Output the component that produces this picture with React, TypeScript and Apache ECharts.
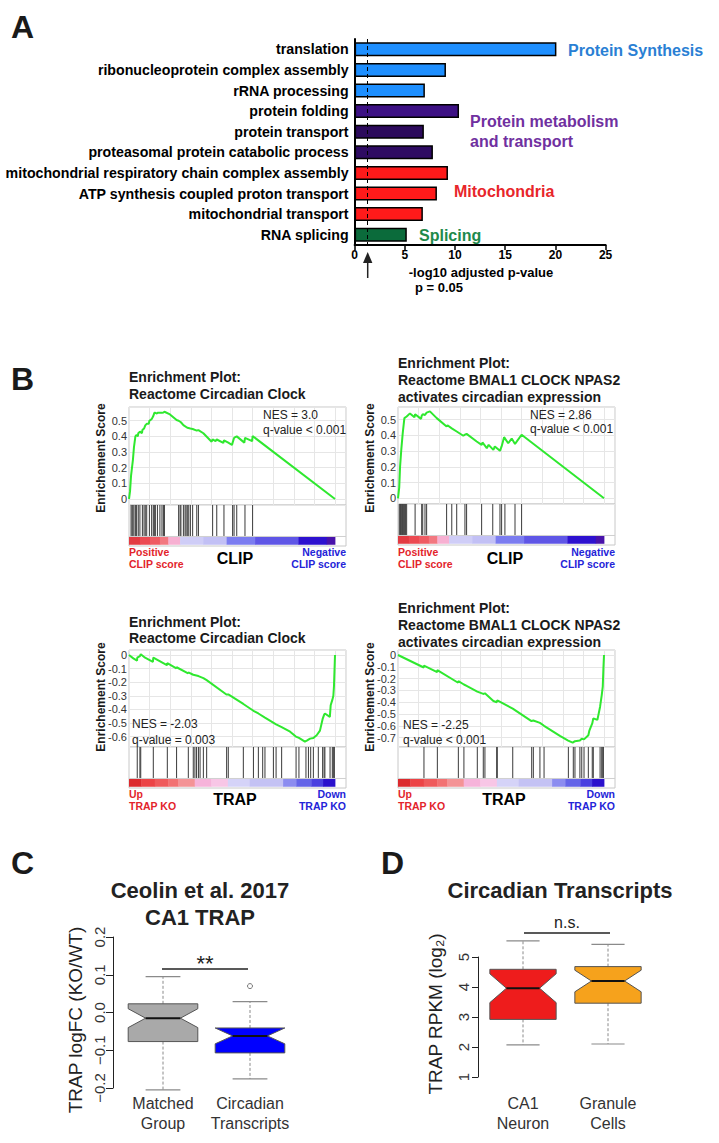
import React, { useEffect, useRef } from "react";
import * as echarts from "echarts";

const FONT = "'Liberation Sans', Arial, Helvetica, sans-serif";

// ---------- Panel A ----------
const goTerms = [
  "translation",
  "ribonucleoprotein complex assembly",
  "rRNA processing",
  "protein folding",
  "protein transport",
  "proteasomal protein catabolic process",
  "mitochondrial respiratory chain complex assembly",
  "ATP synthesis coupled proton transport",
  "mitochondrial transport",
  "RNA splicing",
];
const goValues = [20.1, 9.1, 7.0, 10.4, 6.9, 7.8, 9.3, 8.2, 6.8, 5.2];
const goBarColors = ["#1e8fff", "#1e8fff", "#1e8fff", "#3d1184", "#2c0a5c", "#2e0b62", "#ff1a1a", "#ff1a1a", "#ff1a1a", "#0b6b3b"];
const pCutoff = 1.301; // -log10(0.05)
const goTicks = [0, 25, 5];

// ---------- Panel B (GSEA) ----------
const tlCurve = [[0,0],[0.5,0.05],[1.0,0.15],[1.9,0.25],[2.4,0.33],[3.1,0.40],[3.7,0.41],[4.3,0.40],[4.5,0.42],[5.3,0.43],[6.3,0.42],[6.5,0.44],[7.3,0.45],[7.9,0.47],[8.6,0.48],[9.6,0.48],[9.9,0.50],[11,0.51],[11.8,0.53],[12.3,0.55],[12.8,0.55],[13.6,0.545],[13.8,0.55],[15,0.55],[16,0.55],[16.7,0.552],[17.2,0.557],[19.9,0.54],[23.1,0.504],[24.1,0.50],[25.2,0.49],[26.4,0.472],[28.3,0.455],[29.8,0.45],[30.9,0.447],[32.9,0.437],[33.7,0.44],[36.1,0.42],[40.1,0.366],[40.6,0.38],[42,0.37],[42.6,0.38],[45.8,0.358],[46.1,0.375],[48.2,0.36],[50,0.345],[50.3,0.36],[51,0.39],[51.4,0.394],[52.3,0.40],[56,0.36],[56.3,0.39],[59.8,0.37],[60,0.402],[100,0]];
const tlHits = [1.0,1.5,1.9,2.4,3.1,3.7,4.5,5.3,6.5,7.3,7.9,8.6,9.9,11,11.8,12.3,12.8,13.8,15,16,16.7,17.2,24.1,24.8,25.2,26.4,27.2,27.7,28.3,29,29.8,30.9,32.9,33.7,40.6,42.6,46.1,50.3,51,52.3,56.3,60];

const trCurve = [[0,0],[0.6,0.07],[1.0,0.2],[1.6,0.31],[2.3,0.415],[3.1,0.51],[4.2,0.52],[5.8,0.54],[8.0,0.515],[8.3,0.535],[11.2,0.505],[11.5,0.525],[12,0.535],[13.1,0.53],[13.9,0.545],[15.5,0.553],[18.8,0.51],[23.6,0.457],[24,0.465],[26.1,0.445],[28.5,0.425],[31.7,0.398],[32.5,0.405],[33.3,0.41],[38.2,0.361],[40.6,0.34],[41,0.355],[43.1,0.319],[44,0.34],[46.3,0.308],[47,0.33],[49.5,0.302],[50.3,0.33],[51.5,0.389],[53.5,0.35],[55.2,0.38],[56.8,0.345],[57.6,0.36],[60,0.404],[100,0]];
const trHits = [0.6,1.0,1.3,1.6,2.0,2.3,2.6,3.1,3.6,4.2,8.3,11.5,12,13.1,13.9,23.6,26.1,28.5,32.5,33.3,40.6,46,49.5,50.3,51.9,56.8,60];

const blCurve = [[0,0],[2.1,-0.025],[3.9,-0.042],[4.0,-0.02],[5.3,-0.008],[5.7,0.006],[7.8,-0.02],[11.6,-0.05],[11.8,-0.02],[18.4,-0.075],[18.6,-0.06],[23,-0.098],[23.1,-0.09],[28.7,-0.135],[28.8,-0.128],[31.2,-0.145],[33.7,-0.155],[36.1,-0.17],[37.7,-0.185],[47.3,-0.29],[48.2,-0.29],[55.5,-0.36],[60.4,-0.41],[62.8,-0.43],[66,-0.46],[71.4,-0.51],[74.1,-0.53],[78.2,-0.564],[81,-0.6],[82.5,-0.61],[85.4,-0.637],[86.3,-0.63],[87.9,-0.615],[89.5,-0.61],[91.1,-0.59],[92.7,-0.556],[94,-0.47],[94.7,-0.44],[95.1,-0.43],[97.5,-0.455],[97.9,-0.37],[98.7,-0.33],[99.2,-0.30],[99.5,-0.23],[100,0]];
const blHits = [4.0,5.3,5.7,11.8,18.6,23.1,28.8,31.2,32,32.8,33.7,34.5,36.1,37.7,47.4,48.2,55.5,60.4,62.8,64.9,66,70.1,71.4,74.1,81.1,82.5,85.9,87.1,88.2,89.5,91.9,94,94.7,95.1,97.6,98.7,99.2,99.7];

const brCurve = [[0,0],[12.5,-0.106],[12.6,-0.09],[19,-0.145],[19.1,-0.128],[29.2,-0.235],[29.3,-0.222],[32,-0.25],[33.3,-0.262],[38.5,-0.31],[41.4,-0.33],[42.2,-0.325],[46.3,-0.39],[47.9,-0.40],[48.2,-0.385],[55.7,-0.455],[64.8,-0.56],[65.7,-0.555],[68.9,-0.575],[70.9,-0.6],[78.6,-0.686],[82.6,-0.725],[84.8,-0.743],[85.9,-0.73],[88.3,-0.725],[89.2,-0.71],[90.3,-0.715],[92.4,-0.68],[92.9,-0.64],[94.3,-0.58],[94.8,-0.537],[96.8,-0.55],[98.1,-0.438],[98.9,-0.34],[99.4,-0.268],[99.7,-0.12],[100,0]];
const brHits = [12.6,19.1,29.3,32,38.5,41.4,42.2,47.9,48.2,55.7,64.9,65.7,68.9,70.9,82.7,85.1,85.9,88.3,89.2,90.3,92.4,94.3,94.8,98.1,98.9,99.4,99.7];

const clipBounds = [0, 5.3, 10.2, 15, 19.1, 24.8, 36, 47.4, 61.2, 82.2, 96, 100];
const clipColors = ["#e33a42", "#ec4a52", "#ef5b63", "#f27880", "#f7b0d2", "#cfcdf7", "#c2c0f5", "#7b7cf0", "#5f56e6", "#2d11cf", "#4812aa"];
const trapBounds = [0, 6, 12.5, 19, 23.8, 31.9, 40, 48, 58.6, 74.8, 81.2, 88.5, 94.2, 100];
const trapColors = ["#dc2a2e", "#ec4346", "#ef5a5c", "#f27273", "#f49396", "#f6b3da", "#f8c6e6", "#d5d3f8", "#c4c2f4", "#8c8cf0", "#6464e8", "#4a40e0", "#2a10cc"];

// ---------- Panel C ----------
const cCats = ["Matched\nGroup", "Circadian\nTranscripts"];
// [index, whiskerLow, Q1, notchLow, median, notchHigh, Q3, whiskerHigh]
const cStats = [
  [0, -0.205, -0.077, -0.04, -0.015, 0.01, 0.023, 0.095],
  [1, -0.176, -0.107, -0.083, -0.062, -0.041, -0.041, 0.029],
];
const cOutliers = [[1, 0.07]];
const cFills = ["#a9a9a9", "#0000ff"];

// ---------- Panel D ----------
const dCats = ["CA1\nNeuron", "Granule\nCells"];
const dStats = [
  [0, 2.07, 2.92, 3.48, 3.96, 4.44, 4.59, 5.54],
  [1, 2.1, 3.46, 3.84, 4.2, 4.56, 4.68, 5.42],
];
const dOutliers = [[1, 0.96]];
const dFills = ["#ee1c1c", "#f6a21c"];

const XMAX = 105.34;
const CB_LO = 0.03;
const CB_HI = 0.22;

function T(x: number, y: number, text: string, size: number, o: any = {}) {
  const align = o.align || "left";
  return {
    type: "text",
    x,
    y,
    rotation: o.rot || 0,
    silent: true,
    z: 100,
    style: {
      text,
      fontSize: size,
      fontWeight: o.bold ? "bold" : "normal",
      fontFamily: FONT,
      fill: o.color || "#1a1a1a",
      align,
      textAlign: align,
      verticalAlign: "middle",
      textVerticalAlign: "middle",
    },
  };
}

const hitRender = (params: any, api: any) => {
  const x = api.value(0);
  const p1 = api.coord([x, 1]);
  const p2 = api.coord([x, CB_HI]);
  return {
    type: "line",
    shape: { x1: p1[0], y1: p1[1], x2: p2[0], y2: p2[1] },
    style: { stroke: "#3a3a3a", lineWidth: 1 },
  };
};

const cbRender = (colors: string[]) => (params: any, api: any) => {
  const a = api.coord([api.value(0), CB_HI]);
  const b = api.coord([api.value(1), CB_LO]);
  const children: any[] = [
    {
      type: "rect",
      shape: { x: a[0], y: a[1], width: b[0] - a[0] + 0.4, height: b[1] - a[1] },
      style: { fill: colors[params.dataIndex] },
    },
  ];
  if (params.dataIndex === 0) {
    const l = api.coord([0, CB_HI]);
    const r = api.coord([XMAX, CB_HI]);
    children.push({
      type: "line",
      shape: { x1: l[0], y1: l[1] - 0.5, x2: r[0], y2: r[1] - 0.5 },
      style: { stroke: "#cfcfcf", lineWidth: 1 },
    });
  }
  return { type: "group", children };
};

const boxRender = (fills: string[], frac: number) => (params: any, api: any) => {
  const i = api.value(0);
  const wLo = api.value(1), q1 = api.value(2), nLo = api.value(3), med = api.value(4);
  const nHi = api.value(5), q3 = api.value(6), wHi = api.value(7);
  const yy = (v: number) => api.coord([i, v])[1];
  const cx = api.coord([i, med])[0];
  const hw = (api.size([1, 0])[0] * frac) / 2;
  const nw = hw * 0.5;
  const L = cx - hw, R = cx + hw;
  const whisk = { stroke: "#8a8a8a", lineWidth: 1, lineDash: [3, 2] };
  const cap = { stroke: "#8a8a8a", lineWidth: 1.2 };
  return {
    type: "group",
    children: [
      { type: "line", shape: { x1: cx, y1: yy(q3), x2: cx, y2: yy(wHi) }, style: whisk },
      { type: "line", shape: { x1: cx, y1: yy(q1), x2: cx, y2: yy(wLo) }, style: whisk },
      { type: "line", shape: { x1: cx - hw / 2, y1: yy(wHi), x2: cx + hw / 2, y2: yy(wHi) }, style: cap },
      { type: "line", shape: { x1: cx - hw / 2, y1: yy(wLo), x2: cx + hw / 2, y2: yy(wLo) }, style: cap },
      {
        type: "polygon",
        shape: {
          points: [
            [L, yy(q3)], [R, yy(q3)], [R, yy(nHi)], [cx + nw, yy(med)], [R, yy(nLo)],
            [R, yy(q1)], [L, yy(q1)], [L, yy(nLo)], [cx - nw, yy(med)], [L, yy(nHi)],
          ],
        },
        style: { fill: fills[params.dataIndex], stroke: "#555", lineWidth: 1 },
      },
      { type: "line", shape: { x1: cx - nw, y1: yy(med), x2: cx + nw, y2: yy(med) }, style: { stroke: "#111", lineWidth: 2 } },
    ],
  };
};

function buildOption() {
  const gsea = [
    { curve: tlCurve, hits: tlHits, bounds: clipBounds, colors: clipColors, left: 129, top: 407, h: 98, bTop: 505, min: -0.0383, max: 0.5875 },
    { curve: trCurve, hits: trHits, bounds: clipBounds, colors: clipColors, left: 398, top: 407, h: 97, bTop: 504, min: -0.0364, max: 0.5807 },
    { curve: blCurve, hits: blHits, bounds: trapBounds, colors: trapColors, left: 129, top: 650, h: 97, bTop: 747, min: -0.6765, max: 0.0368 },
    { curve: brCurve, hits: brHits, bounds: trapBounds, colors: trapColors, left: 398, top: 650, h: 97, bTop: 747, min: -0.7797, max: 0.0424 },
  ];

  const grid: any[] = [{ left: 354.6, top: 39, width: 251, height: 206 }];
  const xAxis: any[] = [
    {
      gridIndex: 0, type: "value", min: goTicks[0], max: goTicks[1], interval: goTicks[2],
      axisLine: { show: true, lineStyle: { color: "#000", width: 2 } },
      axisTick: { show: true, length: 5, lineStyle: { color: "#000", width: 1.5 } },
      axisLabel: { fontSize: 12, fontWeight: "bold", color: "#000", margin: 4, fontFamily: FONT },
      splitLine: { show: false },
    },
  ];
  const yAxis: any[] = [
    {
      gridIndex: 0, type: "category", data: goTerms, inverse: true,
      axisLine: { show: true, lineStyle: { color: "#000", width: 2 } },
      axisTick: { show: false },
      axisLabel: { fontSize: 14.2, fontWeight: "bold", color: "#000", margin: 6, fontFamily: FONT, interval: 0 },
    },
  ];
  const series: any[] = [
    {
      type: "bar", xAxisIndex: 0, yAxisIndex: 0, barWidth: 14,
      data: goValues.map((v, i) => ({ value: v, itemStyle: { color: goBarColors[i] } })),
      itemStyle: { borderColor: "#000", borderWidth: 1.5 },
      markLine: {
        silent: true, symbol: "none", label: { show: false },
        lineStyle: { type: [4, 3], color: "#000", width: 1 },
        data: [{ xAxis: pCutoff }],
      },
    },
  ];

  gsea.forEach((g) => {
    const esIdx = grid.length;
    grid.push({ left: g.left, top: g.top, width: 217, height: g.h, show: true, borderColor: "#c8c8c8", borderWidth: 1, backgroundColor: "#fff" });
    grid.push({ left: g.left, top: g.bTop, width: 217, height: 41, show: true, borderColor: "#c8c8c8", borderWidth: 1, backgroundColor: "#fff" });
    xAxis.push({
      gridIndex: esIdx, type: "value", min: 0, max: XMAX, interval: 10,
      axisLine: { show: false }, axisTick: { show: false }, axisLabel: { show: false },
      splitLine: { show: true, lineStyle: { color: "#e6e6e6", width: 1 } },
    });
    yAxis.push({
      gridIndex: esIdx, type: "value", min: g.min, max: g.max, splitNumber: 6,
      axisLine: { show: false }, axisTick: { show: false },
      axisLabel: { fontSize: 11, color: "#333", margin: 2, fontFamily: FONT, showMinLabel: false, showMaxLabel: false },
      splitLine: { show: true, lineStyle: { color: "#e6e6e6", width: 1 } },
    });
    xAxis.push({ gridIndex: esIdx + 1, type: "value", min: 0, max: XMAX, show: false });
    yAxis.push({ gridIndex: esIdx + 1, type: "value", min: 0, max: 1, show: false });
    series.push({
      type: "line", xAxisIndex: esIdx, yAxisIndex: esIdx, data: g.curve, showSymbol: false,
      lineStyle: { color: "#2fe82f", width: 2 }, z: 5,
    });
    series.push({
      type: "custom", xAxisIndex: esIdx + 1, yAxisIndex: esIdx + 1,
      data: g.hits.map((h) => [h, 1]), encode: { x: 0, y: 1 }, renderItem: hitRender,
    });
    const segs = g.colors.map((_, i) => [g.bounds[i], g.bounds[i + 1], 0.1]);
    series.push({
      type: "custom", xAxisIndex: esIdx + 1, yAxisIndex: esIdx + 1,
      data: segs, encode: { x: [0, 1], y: 2 }, renderItem: cbRender(g.colors),
    });
  });

  // Panel C
  const cIdx = grid.length;
  grid.push({ left: 119.5, top: 937, width: 174, height: 151 });
  xAxis.push({
    gridIndex: cIdx, type: "category", data: cCats,
    axisLine: { show: false }, axisTick: { show: false },
    axisLabel: { fontSize: 16, color: "#333", lineHeight: 20, margin: 5, fontFamily: FONT, interval: 0 },
  });
  yAxis.push({
    gridIndex: cIdx, type: "value", min: -0.2, max: 0.2, interval: 0.1, offset: 6.5,
    axisLine: { show: true, lineStyle: { color: "#222", width: 1 } },
    axisTick: { show: true, length: 7, lineStyle: { color: "#222" } },
    axisLabel: {
      rotate: 90, fontSize: 15, color: "#333", margin: 6, fontFamily: FONT,
      formatter: (v: number) => v.toFixed(1).replace("-", "\u2212"),
    },
    splitLine: { show: false },
  });
  series.push({
    type: "custom", xAxisIndex: cIdx, yAxisIndex: cIdx, data: cStats,
    encode: { x: 0, y: [1, 2, 3, 4, 5, 6, 7] }, renderItem: boxRender(cFills, 0.8),
  });
  series.push({
    type: "scatter", xAxisIndex: cIdx, yAxisIndex: cIdx, data: cOutliers, symbol: "circle", symbolSize: 5,
    itemStyle: { color: "#fff", borderColor: "#555", borderWidth: 1 },
  });

  // Panel D
  const dIdx = grid.length;
  grid.push({ left: 480.5, top: 957, width: 170, height: 120 });
  xAxis.push({
    gridIndex: dIdx, type: "category", data: dCats,
    axisLine: { show: false }, axisTick: { show: false },
    axisLabel: { fontSize: 16, color: "#333", lineHeight: 20, margin: 16, fontFamily: FONT, interval: 0 },
  });
  yAxis.push({
    gridIndex: dIdx, type: "value", min: 1, max: 5, interval: 1, offset: 2.5,
    axisLine: { show: true, lineStyle: { color: "#222", width: 1 } },
    axisTick: { show: true, length: 6, lineStyle: { color: "#222" } },
    axisLabel: { rotate: 90, fontSize: 15, color: "#333", margin: 7, fontFamily: FONT },
    splitLine: { show: false },
  });
  series.push({
    type: "custom", xAxisIndex: dIdx, yAxisIndex: dIdx, data: dStats,
    encode: { x: 0, y: [1, 2, 3, 4, 5, 6, 7] }, renderItem: boxRender(dFills, 0.78),
  });
  series.push({
    type: "scatter", xAxisIndex: dIdx, yAxisIndex: dIdx, data: dOutliers, symbol: "circle", symbolSize: 5,
    itemStyle: { color: "#fff", borderColor: "#555", borderWidth: 1 },
  });

  const red = "#e3242b";
  const blue = "#2424d8";
  const graphic: any[] = [
    T(11, 26.5, "A", 32, { bold: true }),
    T(11, 379, "B", 32, { bold: true }),
    T(11, 863, "C", 32, { bold: true }),
    T(381, 863, "D", 32, { bold: true }),
    // Panel A annotations
    T(568, 50, "Protein Synthesis", 16, { bold: true, color: "#2a7fd4" }),
    T(470, 121, "Protein metabolism", 16, { bold: true, color: "#7030a0" }),
    T(470, 141, "and transport", 16, { bold: true, color: "#7030a0" }),
    T(454, 191, "Mitochondria", 16, { bold: true, color: "#e8262a" }),
    T(419, 235, "Splicing", 16, { bold: true, color: "#1e8a4c" }),
    T(481, 272, "-log10 adjusted p-value", 13, { bold: true, align: "center", color: "#000" }),
    T(439, 287, "p = 0.05", 13, { bold: true, align: "center", color: "#000" }),
    { type: "line", silent: true, shape: { x1: 367.7, y1: 261, x2: 367.7, y2: 278 }, style: { stroke: "#222", lineWidth: 1.5 } },
    { type: "polygon", silent: true, shape: { points: [[367.7, 252], [363, 263], [372.4, 263]] }, style: { fill: "#222" } },
    // GSEA titles
    T(129, 377, "Enrichment Plot:", 14, { bold: true }),
    T(129, 394, "Reactome Circadian Clock", 14, { bold: true }),
    T(398, 363, "Enrichment Plot:", 14, { bold: true }),
    T(398, 380, "Reactome BMAL1 CLOCK NPAS2", 14, { bold: true }),
    T(398, 397, "activates circadian expression", 14, { bold: true }),
    T(129, 622, "Enrichment Plot:", 14, { bold: true }),
    T(129, 638, "Reactome Circadian Clock", 14, { bold: true }),
    T(398, 608, "Enrichment Plot:", 14, { bold: true }),
    T(398, 625, "Reactome BMAL1 CLOCK NPAS2", 14, { bold: true }),
    T(398, 642, "activates circadian expression", 14, { bold: true }),
    // y titles
    T(101, 458, "Enrichement Score", 12, { bold: true, rot: Math.PI / 2, align: "center" }),
    T(370, 458, "Enrichement Score", 12, { bold: true, rot: Math.PI / 2, align: "center" }),
    T(101, 697, "Enrichement Score", 12, { bold: true, rot: Math.PI / 2, align: "center" }),
    T(370, 697, "Enrichement Score", 12, { bold: true, rot: Math.PI / 2, align: "center" }),
    // NES
    T(263, 415, "NES = 3.0", 12, { color: "#222" }),
    T(263, 430, "q-value < 0.001", 12, { color: "#222" }),
    T(530, 415, "NES = 2.86", 12, { color: "#222" }),
    T(530, 429, "q-value < 0.001", 12, { color: "#222" }),
    T(132, 724, "NES = -2.03", 12, { color: "#222" }),
    T(132, 740, "q-value = 0.003", 12, { color: "#222" }),
    T(403, 725, "NES = -2.25", 12, { color: "#222" }),
    T(403, 740, "q-value < 0.001", 12, { color: "#222" }),
    // bottom labels CLIP
    T(129, 552, "Positive", 10.5, { bold: true, color: red }),
    T(129, 564, "CLIP score", 10.5, { bold: true, color: red }),
    T(346, 552, "Negative", 10.5, { bold: true, color: blue, align: "right" }),
    T(346, 564, "CLIP score", 10.5, { bold: true, color: blue, align: "right" }),
    T(235, 558, "CLIP", 16, { bold: true, align: "center", color: "#000" }),
    T(398, 552, "Positive", 10.5, { bold: true, color: red }),
    T(398, 564, "CLIP score", 10.5, { bold: true, color: red }),
    T(615, 552, "Negative", 10.5, { bold: true, color: blue, align: "right" }),
    T(615, 564, "CLIP score", 10.5, { bold: true, color: blue, align: "right" }),
    T(505, 558, "CLIP", 16, { bold: true, align: "center", color: "#000" }),
    // bottom labels TRAP
    T(129, 794, "Up", 10.5, { bold: true, color: red }),
    T(129, 806, "TRAP KO", 10.5, { bold: true, color: red }),
    T(346, 794, "Down", 10.5, { bold: true, color: blue, align: "right" }),
    T(346, 806, "TRAP KO", 10.5, { bold: true, color: blue, align: "right" }),
    T(235, 799, "TRAP", 16, { bold: true, align: "center", color: "#000" }),
    T(398, 794, "Up", 10.5, { bold: true, color: red }),
    T(398, 806, "TRAP KO", 10.5, { bold: true, color: red }),
    T(615, 794, "Down", 10.5, { bold: true, color: blue, align: "right" }),
    T(615, 806, "TRAP KO", 10.5, { bold: true, color: blue, align: "right" }),
    T(504, 799, "TRAP", 16, { bold: true, align: "center", color: "#000" }),
    // Panel C/D titles
    T(200, 890, "Ceolin et al. 2017", 22, { bold: true, align: "center", color: "#222" }),
    T(200, 917, "CA1 TRAP", 22, { bold: true, align: "center", color: "#222" }),
    T(560, 890, "Circadian Transcripts", 22, { bold: true, align: "center", color: "#222" }),
    T(75, 1020, "TRAP logFC (KO/WT)", 19, { rot: Math.PI / 2, align: "center", color: "#222" }),
    T(435, 1014, "TRAP RPKM (log\u2082)", 19, { rot: Math.PI / 2, align: "center", color: "#222" }),
    T(205, 963, "**", 22, { align: "center", color: "#222" }),
    { type: "line", silent: true, shape: { x1: 162, y1: 969, x2: 248, y2: 969 }, style: { stroke: "#222", lineWidth: 1.5 } },
    T(567, 922, "n.s.", 16, { align: "center", color: "#222" }),
    { type: "line", silent: true, shape: { x1: 524, y1: 933, x2: 610, y2: 933 }, style: { stroke: "#222", lineWidth: 1.5 } },
  ];

  return {
    animation: false,
    backgroundColor: "#fff",
    textStyle: { fontFamily: FONT },
    grid,
    xAxis,
    yAxis,
    series,
    graphic,
  };
}

export default function App() {
  const ref = useRef<HTMLDivElement>(null);
  useEffect(() => {
    if (!ref.current) return;
    const chart = echarts.init(ref.current, null, { renderer: "svg" });
    chart.setOption(buildOption() as any);
    return () => chart.dispose();
  }, []);
  return (
    <div
      ref={ref}
      style={{ position: "absolute", left: 0, top: 0, width: 719, height: 1143, background: "#fff" }}
    />
  );
}
